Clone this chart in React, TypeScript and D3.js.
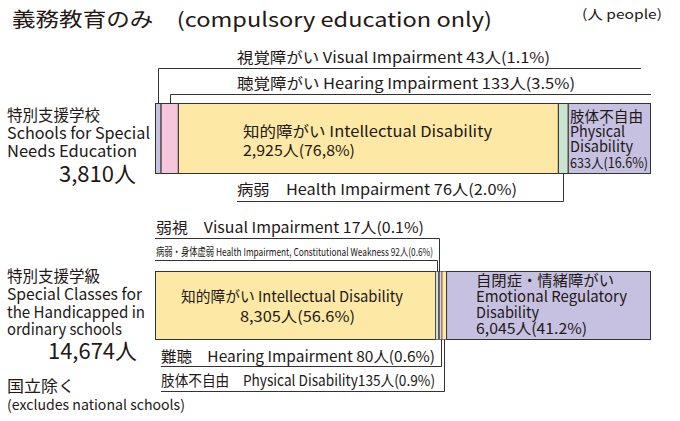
import React from 'react';
import * as d3 from 'd3';

// 特別支援学校 (Schools for Special Needs Education)
const schoolCategories = ['visual', 'hearing', 'intellectual', 'health', 'physical'];
const schoolValues = [43, 133, 2925, 76, 633];
const schoolTotal = 3810;

// 特別支援学級 (Special Classes in ordinary schools)
const classCategories = ['intellectual', 'health', 'visual', 'hearing', 'physical', 'emotional'];
const classValues = [8305, 92, 17, 80, 135, 6045];
const classTotal = 14674;

const colors: Record<string, string> = {
  visual: '#c6c1e1',
  hearing: '#f6c7dc',
  intellectual: '#fde8a6',
  health: '#c9e5d2',
  physical: '#c6c1e1',
  emotional: '#c6c1e1',
};
const classColors: Record<string, string> = { ...colors, physical: '#fde8a6' };

const FONT = '"Noto Sans CJK JP", "Noto Sans", sans-serif';
const INK = '#231815';

type Line = [string, number, number, number, number?]; // text, x, y, width, size

// several lines in one <text>, each line a tspan squeezed to its width
const Block = ({ lines, size = 15 }: { lines: Line[]; size?: number }) => (
  <text fill={INK} fontSize={size}>
    {lines.map(([t, x, y, w, s], i) => (
      <tspan key={i} x={x} y={y} fontSize={s || size} textLength={w} lengthAdjust="spacingAndGlyphs">
        {t}
      </tspan>
    ))}
  </text>
);

function stack(values: number[]) {
  let acc = 0;
  return values.map(v => {
    const s = acc;
    acc += v;
    return { start: s, end: acc, mid: s + v / 2 };
  });
}

const App = () => {
  const x1 = d3.scaleLinear().domain([0, schoolTotal]).range([155.5, 650.5]);
  const x2 = d3.scaleLinear().domain([0, classTotal]).range([155.5, 650.5]);
  const bar1 = { top: 103.5, bottom: 173.5 };
  const bar2 = { top: 271.5, bottom: 339.5 };
  const s1 = stack(schoolValues);
  const s2 = stack(classValues);
  const mid1 = (k: string) => Math.round(x1(s1[schoolCategories.indexOf(k)].mid)) + 0.5;
  const mid2 = (k: string) => Math.round(x2(s2[classCategories.indexOf(k)].mid)) + 0.5;
  const line = d3.line();

  const leader = (pts: [number, number][], key: string) => (
    <path key={key} d={line(pts) || ''} fill="none" stroke="#333" strokeWidth={1} />
  );

  return (
    <svg width={680} height={421} style={{ position: 'absolute', left: 0, top: 0, background: '#fff' }} fontFamily={FONT}>
      {/* title */}
      <Block size={20} lines={[['義務教育のみ　(compulsory education only)', 12, 27, 480]]} />
      <Block size={13} lines={[['(人 people)', 582, 19, 80]]} />

      {/* bar 1 */}
      {s1.map((d, i) => (
        <rect
          key={'a' + i}
          x={x1(d.start)}
          y={bar1.top}
          width={x1(d.end) - x1(d.start)}
          height={bar1.bottom - bar1.top}
          fill={colors[schoolCategories[i]]}
          stroke="#333"
          strokeWidth={1}
        />
      ))}
      {leader([[mid1('visual'), bar1.top], [mid1('visual'), 68.5], [641, 68.5]], 'l1')}
      {leader([[mid1('hearing'), bar1.top], [mid1('hearing'), 94.5], [651, 94.5]], 'l2')}
      {leader([[mid1('health'), bar1.bottom], [mid1('health'), 201.5], [237, 201.5]], 'l3')}
      <Block lines={[['視覚障がい Visual Impairment 43人(1.1%)', 237, 63, 313]]} />
      <Block lines={[['聴覚障がい Hearing Impairment 133人(3.5%)', 237, 89, 338]]} />
      <Block lines={[['病弱　Health Impairment 76人(2.0%)', 237, 195, 280]]} />
      <Block lines={[
        ['知的障がい Intellectual Disability', 243, 137, 249],
        ['2,925人(76,8%)', 243, 156, 112],
      ]} />
      <Block lines={[
        ['肢体不自由', 570, 122, 73],
        ['Physical', 570, 137, 55],
        ['Disability', 570, 152, 63],
        ['633人(16.6%)', 570, 168, 78, 14],
      ]} />

      {/* left labels 1 */}
      <Block size={16} lines={[
        ['特別支援学校', 7, 121, 93],
        ['Schools for Special', 7, 139, 143],
        ['Needs Education', 7, 157, 130],
        ['3,810人', 59, 182, 77, 22],
      ]} />

      {/* bar 2 */}
      {s2.map((d, i) => (
        <rect
          key={'b' + i}
          x={x2(d.start)}
          y={bar2.top}
          width={x2(d.end) - x2(d.start)}
          height={bar2.bottom - bar2.top}
          fill={classColors[classCategories[i]]}
          stroke="#333"
          strokeWidth={i > 0 && i < 5 ? 0.6 : 1}
        />
      ))}
      {leader([[mid2('visual'), bar2.top], [mid2('visual'), 238.5], [155, 238.5]], 'm1')}
      {leader([[mid2('health'), bar2.top], [mid2('health'), 260.5], [155, 260.5]], 'm2')}
      {leader([[mid2('hearing'), bar2.bottom], [mid2('hearing'), 366.5], [161, 366.5]], 'm3')}
      {leader([[mid2('physical'), bar2.bottom], [mid2('physical'), 391.5], [161, 391.5]], 'm4')}
      <Block lines={[['弱視　Visual Impairment 17人(0.1%)', 156, 233, 268]]} />
      <Block size={11} lines={[['病弱・身体虚弱  Health Impairment, Constitutional Weakness 92人(0.6%)', 156, 256, 277]]} />
      <Block lines={[['難聴　Hearing Impairment 80人(0.6%)', 161, 362, 274]]} />
      <Block lines={[['肢体不自由　Physical Disability135人(0.9%)', 161, 386, 274]]} />
      <Block lines={[
        ['知的障がい Intellectual Disability', 181, 302, 222],
        ['8,305人(56.6%)', 240, 322, 115],
      ]} />
      <Block lines={[
        ['自閉症・情緒障がい', 476, 286, 138],
        ['Emotional Regulatory', 476, 302, 151],
        ['Disability', 476, 318, 63],
        ['6,045人(41.2%)', 476, 334, 111],
      ]} />

      {/* left labels 2 */}
      <Block size={16} lines={[
        ['特別支援学級', 7, 282, 93],
        ['Special Classes for', 7, 300, 135],
        ['the Handicapped in', 7, 318, 138],
        ['ordinary schools', 7, 335, 115],
        ['14,674人', 48, 359, 89, 22],
      ]} />
      <Block size={16} lines={[
        ['国立除く', 7, 392, 68],
        ['(excludes national schools)', 7, 410, 178, 14],
      ]} />
    </svg>
  );
};

export default App;
